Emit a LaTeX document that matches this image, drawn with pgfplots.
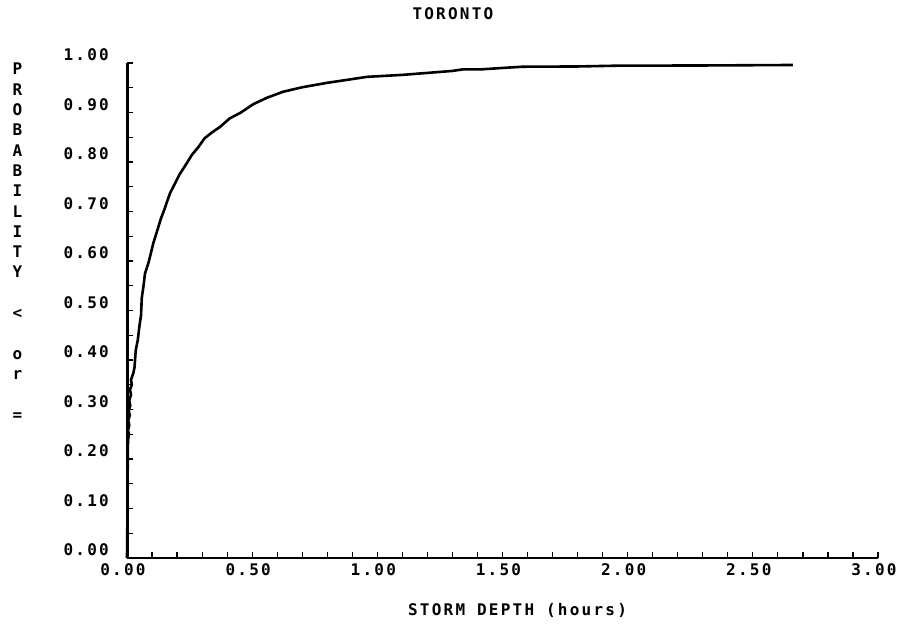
\documentclass[border=0pt]{standalone}
\usepackage{fontspec}
\setmainfont{DejaVu Sans Mono Bold}[LetterSpace=14]
\usepackage{pgfplots}
\pgfplotsset{compat=1.18}
\pgfplotstableread{
x y
0.000 0.000
0.002 0.100
0.003 0.200
0.004 0.238
0.008 0.250
0.004 0.258
0.009 0.268
0.005 0.278
0.011 0.288
0.007 0.298
0.013 0.308
0.009 0.318
0.016 0.330
0.012 0.340
0.019 0.350
0.016 0.360
0.025 0.373
0.030 0.385
0.035 0.420
0.043 0.440
0.050 0.470
0.056 0.490
0.059 0.525
0.066 0.550
0.072 0.575
0.085 0.595
0.095 0.615
0.105 0.636
0.120 0.660
0.135 0.685
0.150 0.705
0.160 0.720
0.172 0.737
0.190 0.755
0.210 0.775
0.238 0.797
0.260 0.815
0.285 0.830
0.310 0.848
0.340 0.860
0.372 0.871
0.410 0.888
0.455 0.900
0.505 0.917
0.560 0.930
0.624 0.942
0.700 0.951
0.800 0.960
0.880 0.966
0.958 0.972
1.100 0.976
1.200 0.980
1.300 0.984
1.340 0.987
1.410 0.987
1.500 0.990
1.580 0.9925
1.800 0.993
1.960 0.9946
2.300 0.995
2.660 0.996
}\datatable
\begin{document}
\begin{tikzpicture}
\useasboundingbox (0,0) rectangle (907pt,-627pt);
\begin{axis}[
  at={(127pt,-558pt)}, anchor=south west,
  scale only axis, width=751pt, height=495pt,
  xmin=0, xmax=3, ymin=0, ymax=1,
  axis lines*=left,
  x axis line style={line width=1.5pt, -},
  y axis line style={line width=3pt, -},
  tick align=inside,
  major tick length=6pt, minor tick length=6pt,
  every tick/.style={black, line width=1.2pt},
  xtick={0,0.5,1,1.5,2,2.5,3},
  xticklabels={0.00,0.50,1.00,1.50,2.00,2.50,3.00},
  minor xtick={0.1,0.2,0.3,0.4,0.6,0.7,0.8,0.9,1.1,1.2,1.3,1.4,1.6,1.7,1.8,1.9,2.1,2.2,2.3,2.4,2.6,2.7,2.8,2.9},
  ytick={0,0.1,0.2,0.3,0.4,0.5,0.6,0.7,0.8,0.9,1},
  yticklabels={0.00,0.10,0.20,0.30,0.40,0.50,0.60,0.70,0.80,0.90,1.00},
  minor ytick={0.05,0.15,0.25,0.35,0.45,0.55,0.65,0.75,0.85,0.95},
  tick label style={font=\fontsize{16}{20}\selectfont},
  yticklabel style={anchor=east, inner sep=0pt, xshift=-18pt, yshift=8pt},
  xticklabel style={anchor=north, inner sep=0pt, yshift=-5pt, xshift=-4pt},
  title={TORONTO},
  title style={at={(axis description cs:0.434,1.087)}, anchor=center, inner sep=0pt, font=\fontsize{16}{20}\selectfont},
  xlabel={STORM DEPTH (hours)},
  xlabel style={at={(axis description cs:0.520,-0.105)}, anchor=center, inner sep=0pt, font=\fontsize{16}{20}\selectfont},
  ylabel={P\\R\\O\\B\\A\\B\\I\\L\\I\\T\\Y\\\mbox{}\\<\\\mbox{}\\o\\r\\\mbox{}\\=},
  ylabel style={rotate=-90, align=center, at={(axis description cs:-0.146,0.639)}, anchor=center, inner sep=0pt, font=\fontsize{16}{20.3}\selectfont},
  clip=false,
]
\addplot[black, line width=2.6pt, line join=round, mark=none] table[x=x, y=y] {\datatable};
\end{axis}
\end{tikzpicture}
\end{document}
